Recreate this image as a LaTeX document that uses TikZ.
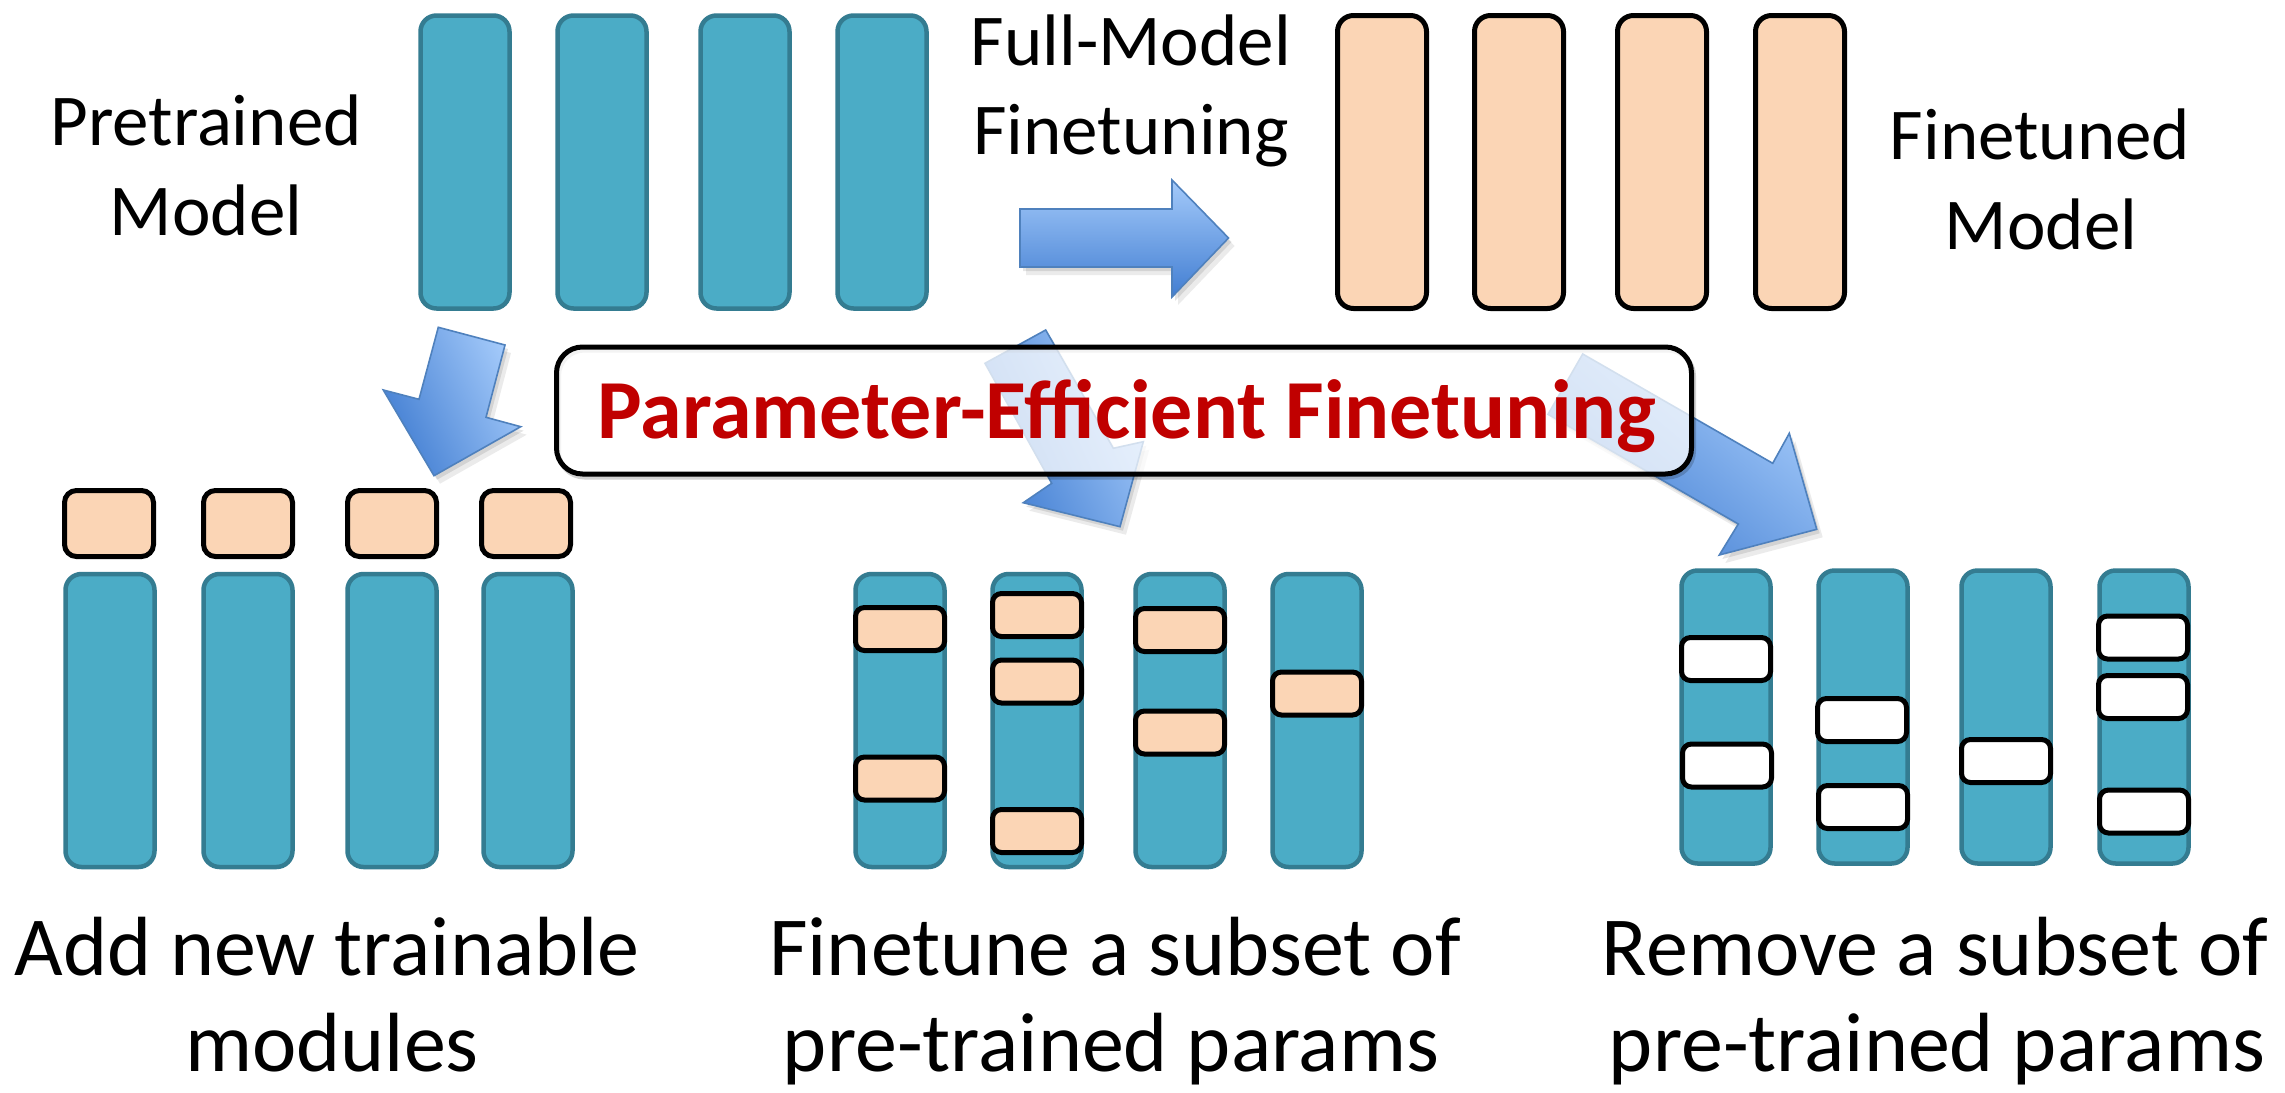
\documentclass[tikz,border=0pt]{standalone}
\usepackage{fontspec}
\setmainfont{Carlito}
\definecolor{tealfill}{RGB}{75,172,198}
\definecolor{tealedge}{RGB}{52,124,145}
\definecolor{peach}{RGB}{251,213,181}
\definecolor{arrowdark}{RGB}{66,126,210}
\definecolor{arrowlight}{RGB}{164,202,250}
\definecolor{arrowedge}{RGB}{79,129,189}
\definecolor{peftred}{RGB}{192,0,0}

\begin{document}
\begin{tikzpicture}[x=1pt,y=-1pt,
  tealbar/.style={draw=tealedge, fill=tealfill, line width=4.5pt, rounded corners=16pt,
    minimum width=89pt, minimum height=293pt, inner sep=0pt},
  peachbar/.style={draw=black, fill=peach, line width=5pt, rounded corners=16pt,
    minimum width=89pt, minimum height=293pt, inner sep=0pt},
  peachmod/.style={draw=black, fill=peach, line width=5pt, rounded corners=12pt,
    minimum width=89pt, minimum height=66pt, inner sep=0pt},
  insertbox/.style={draw=black, line width=5pt, rounded corners=9pt,
    minimum width=89pt, minimum height=43pt, inner sep=0pt},
  peachins/.style={insertbox, fill=peach},
  blankins/.style={insertbox, fill=white},
  blockarrow/.style={draw=arrowedge, line width=1.6pt, line join=miter,
    preaction={fill=black, opacity=0.08, transform canvas={shift={(6pt,-8pt)}}},
    preaction={fill=black, opacity=0.10, transform canvas={shift={(3pt,-4pt)}}}},
  toplabel/.style={font=\fontsize{73}{88}\selectfont, anchor=base, inner sep=0pt},
  captext/.style={font=\fontsize{84}{100}\selectfont, anchor=base, inner sep=0pt},
  pefttext/.style={font=\fontsize{84}{100}\selectfont\bfseries, text=peftred,
    anchor=base, inner sep=0pt},
  peftbox/.style={draw=black, line width=5pt, fill=white, fill opacity=0.75,
    draw opacity=1, rounded corners=26pt, minimum width=1135pt, minimum height=127pt,
    inner sep=0pt,
    preaction={draw=black, opacity=0.18, line width=5pt, rounded corners=26pt,
      transform canvas={shift={(2pt,-3pt)}}}}
]
\fill[white] (0,0) rectangle (2285,1092);
\useasboundingbox (0,0) rectangle (2285,1092);

% ---- pretrained model and fully finetuned model ----
\foreach \x [count=\i] in {465,602,745,882}
  \node[tealbar] (pre\i) at (\x,162) {};
\foreach \x [count=\i] in {1382,1519,1662,1800}
  \node[peachbar] (ft\i) at (\x,162) {};

\node[toplabel] (pretA) at (206,145) {Pretrained};
\node[toplabel] (pretB) at (206,235) {Model};
\node[toplabel] (fullA) at (1131,65) {Full-Model};
\node[toplabel] (fullB) at (1131,154) {Finetuning};
\node[toplabel] (ftdA) at (2040,159) {Finetuned};
\node[toplabel] (ftdB) at (2041,249) {Model};

% ---- block arrows ----
\shadedraw[blockarrow, top color=arrowlight, bottom color=arrowdark]
  (1020,209) -- (1172,209) -- (1172,180) -- (1228.5,238) -- (1172,297)
  -- (1172,267) -- (1020,267) -- cycle;

\shadedraw[blockarrow, top color=arrowlight, bottom color=arrowdark, shading angle=-65]
  (438.3,327.3) -- (505,345) -- (486,417.3) -- (520.7,426.7) -- (434,475.7)
  -- (383.3,390) -- (419,399.3) -- cycle;

\shadedraw[blockarrow, top color=arrowlight, bottom color=arrowdark, shading angle=-65]
  (985,363.3) -- (1045.7,330) -- (1113.3,448.3) -- (1143.3,441.7) -- (1120,526.7)
  -- (1023.3,502.7) -- (1051.7,483.3) -- cycle;

\shadedraw[blockarrow, top color=arrowlight, bottom color=arrowdark, shading angle=-40]
  (1548,414.3) -- (1582.7,354) -- (1772.7,463.3) -- (1789.3,433.3) -- (1816.7,529.3)
  -- (1719.3,555) -- (1738.3,524) -- cycle;

% ---- parameter-efficient finetuning banner ----
\node[peftbox] (peft) at (1124,410.5) {};
\node[pefttext] (pefttitle) at (1127,438) {Parameter-Efficient Finetuning};

% ---- added trainable modules ----
\foreach \x [count=\i] in {110,248,392,528}
  \node[tealbar] (ad\i) at (\x,720.5) {};
\foreach \x [count=\i] in {109,248,392,526}
  \node[peachmod] (mod\i) at (\x,523.5) {};

% ---- finetuned subset ----
\foreach \x [count=\i] in {900,1037,1180,1317}
  \node[tealbar] (sub\i) at (\x,720.5) {};
\node[peachins] (s11) at (900,629) {};
\node[peachins] (s12) at (900,778.5) {};
\node[peachins] (s21) at (1037,615) {};
\node[peachins] (s22) at (1037,681.5) {};
\node[peachins] (s23) at (1037,831) {};
\node[peachins] (s31) at (1180,630) {};
\node[peachins] (s32) at (1180,732.5) {};
\node[peachins] (s41) at (1317,693.5) {};

% ---- removed subset ----
\foreach \x [count=\i] in {1726,1863,2006,2144}
  \node[tealbar] (rm\i) at (\x,717) {};
\node[blankins] (r11) at (1726,659) {};
\node[blankins] (r12) at (1727,765.5) {};
\node[blankins] (r21) at (1862,720) {};
\node[blankins] (r22) at (1863,807) {};
\node[blankins] (r31) at (2006,761) {};
\node[blankins] (r41) at (2143,637.5) {};
\node[blankins] (r42) at (2143,697) {};
\node[blankins] (r43) at (2144,811.5) {};

% ---- captions ----
\node[captext] (capAa) at (327,975) {Add new trainable};
\node[captext] (capAb) at (332,1071) {modules};
\node[captext] (capBa) at (1115,975) {Finetune a subset of};
\node[captext] (capBb) at (1111,1071) {pre-trained params};
\node[captext] (capCa) at (1935,975) {Remove a subset of};
\node[captext] (capCb) at (1937,1071) {pre-trained params};
\end{tikzpicture}
\end{document}
